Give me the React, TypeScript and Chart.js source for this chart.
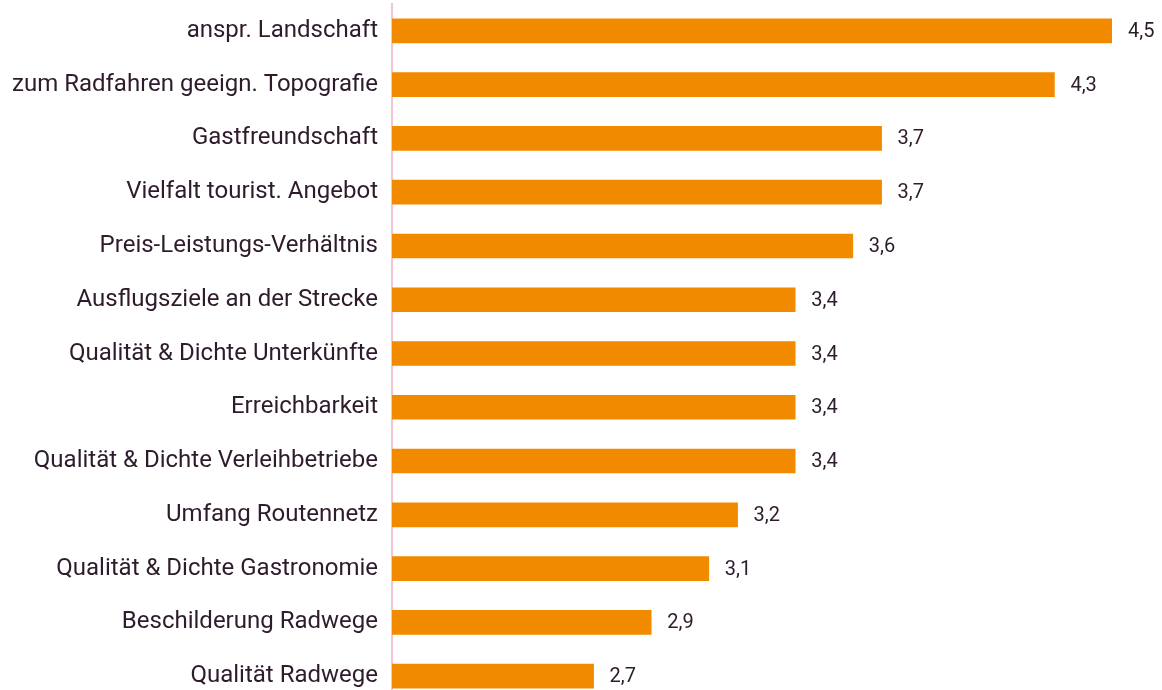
import React, { useEffect, useRef } from "react";
import { Chart, registerables } from "chart.js";

Chart.register(...registerables);

const categories = [
  "anspr. Landschaft",
  "zum Radfahren geeign. Topografie",
  "Gastfreundschaft",
  "Vielfalt tourist. Angebot",
  "Preis-Leistungs-Verhältnis",
  "Ausflugsziele an der Strecke",
  "Qualität & Dichte Unterkünfte",
  "Erreichbarkeit",
  "Qualität & Dichte Verleihbetriebe",
  "Umfang Routennetz",
  "Qualität & Dichte Gastronomie",
  "Beschilderung Radwege",
  "Qualität Radwege",
];

const values = [4.5, 4.3, 3.7, 3.7, 3.6, 3.4, 3.4, 3.4, 3.4, 3.2, 3.1, 2.9, 2.7];

const TEXT = "#2e1b2b";
const BAR = "#F28A00";

const valueLabels = {
  id: "valueLabels",
  afterDatasetsDraw(chart: any) {
    const ctx = chart.ctx;
    const meta = chart.getDatasetMeta(0);
    ctx.save();
    ctx.font = "20px Roboto";
    ctx.fillStyle = TEXT;
    ctx.textAlign = "left";
    ctx.textBaseline = "middle";
    meta.data.forEach((bar: any, i: number) => {
      const v = values[i];
      ctx.fillText(v.toFixed(1).replace(".", ","), bar.x + 16, bar.y + 1);
    });
    ctx.restore();
  },
};

export default function App() {
  const ref = useRef<HTMLCanvasElement>(null);
  useEffect(() => {
    document.body.style.margin = "0";
    document.body.style.overflow = "hidden";
    const canvas = ref.current!;
    const chart: any = new Chart(canvas, {
      type: "bar",
      data: {
        labels: categories,
        datasets: [
          {
            data: values,
            backgroundColor: BAR,
            barThickness: 24,
            borderWidth: 0,
          },
        ],
      },
      options: {
        indexAxis: "y",
        animation: false,
        responsive: false,
        maintainAspectRatio: false,
        layout: { padding: { top: 4, bottom: 3, right: 50, left: 0 } },
        plugins: { legend: { display: false }, tooltip: { enabled: false } },
        scales: {
          x: {
            min: 2,
            max: 4.5,
            display: false,
          },
          y: {
            afterFit(scale: any) {
              scale.width = 392;
              scale.paddingTop = 0;
              scale.paddingBottom = 0;
            },
            grid: { display: false, drawTicks: false },
            border: { display: true, color: "#f2c4d8", width: 2 },
            ticks: {
              color: TEXT,
              font: { family: "Roboto", size: 24 },
              padding: 14,
            },
          },
        },
      },
      plugins: [valueLabels],
    });
    return () => chart.destroy();
  }, []);
  return (
    <div style={{ width: 1162, height: 690, overflow: "hidden" }}>
      <canvas ref={ref} width={1162} height={706} style={{ display: "block" }} />
    </div>
  );
}
